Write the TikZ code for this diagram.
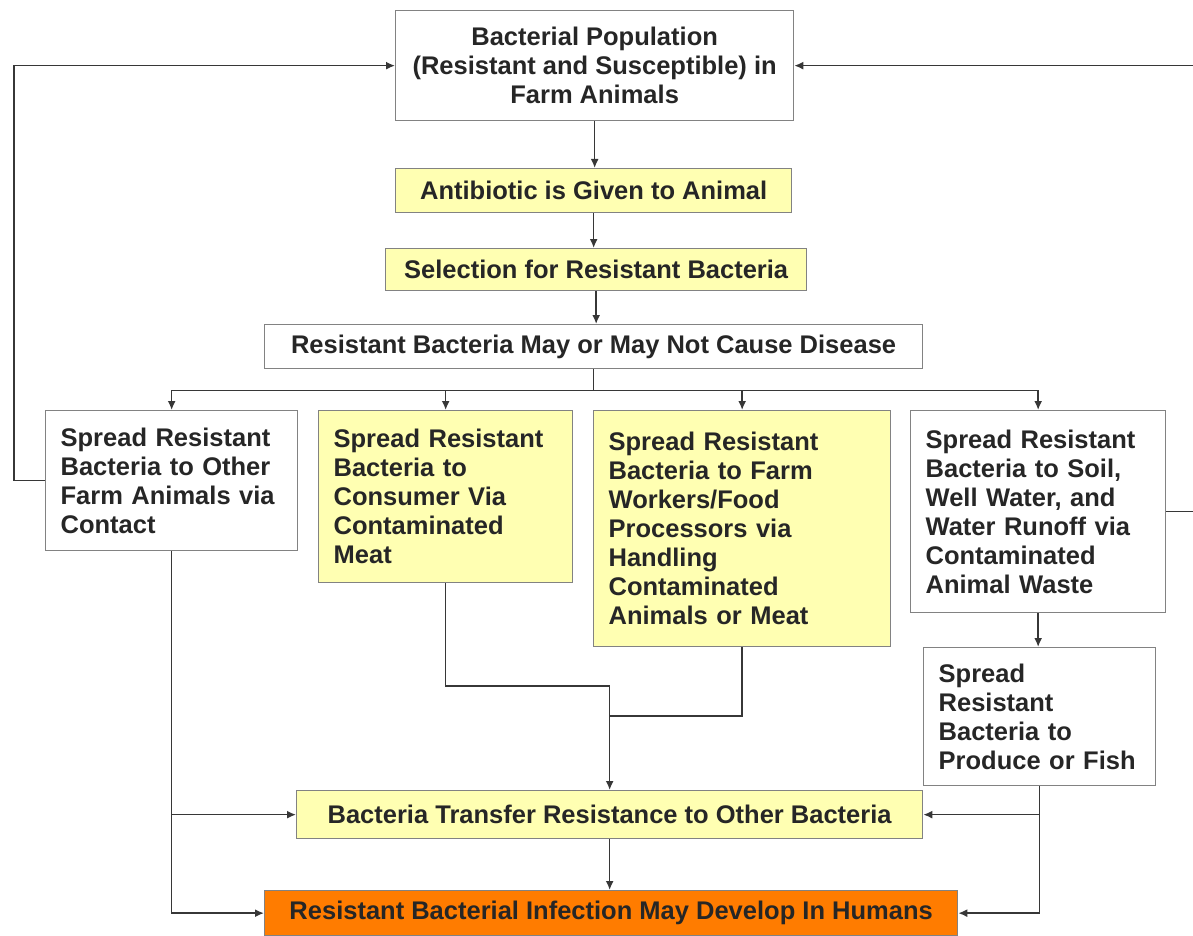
\documentclass[tikz,border=0pt]{standalone}
\usepackage{fontspec}
\setmainfont{Liberation Sans}
\usetikzlibrary{positioning,arrows.meta}
\definecolor{paleyellow}{RGB}{255,255,178}
\definecolor{infectorange}{RGB}{255,124,0}
\definecolor{edgegray}{RGB}{130,130,130}
\definecolor{linegray}{RGB}{55,55,55}
\tikzset{
  box/.style={draw=edgegray, line width=1.3pt, inner xsep=15pt, inner ysep=0pt,
    anchor=north west, text=black!85,
    font=\bfseries\fontsize{25.5}{29}\selectfont},
  cbox/.style={box, align=center},
  lbox/.style={box, align=left},
  yel/.style={fill=paleyellow},
  link/.style={draw=linegray, line width=1.6pt},
  arr/.style={link, -{Latex[length=9pt,width=8pt]}}
}

\begin{document}
\begin{tikzpicture}[x=1pt,y=-1pt]
\useasboundingbox (0,0) rectangle (1193,936);
% top of the chain
\node[cbox, minimum width=398, minimum height=110] (pop) at (395,10)
  {Bacterial Population\\(Resistant and Susceptible) in\\Farm Animals};
\node[cbox, yel, minimum width=396, minimum height=44] (anti) at (395,168)
  {Antibiotic is Given to Animal};
\node[cbox, yel, minimum width=421, minimum height=42] (sel) at (385,248)
  {Selection for Resistant Bacteria};
\node[cbox, minimum width=658, minimum height=44] (cause) at (264,324)
  {Resistant Bacteria May or May Not Cause Disease};
% the four ways of spreading
\node[lbox, text width=222, minimum height=140] (farm) at (45,410)
  {Spread Resistant\\Bacteria to Other\\Farm Animals via\\Contact};
\node[lbox, yel, text width=224, minimum height=172] (meat) at (318,410)
  {Spread Resistant\\Bacteria to\\Consumer Via\\Contaminated\\Meat};
\node[lbox, yel, text width=267, minimum height=236] (work) at (593,410)
  {Spread Resistant\\Bacteria to Farm\\Workers/Food\\Processors via\\Handling\\Contaminated\\Animals or Meat};
\node[lbox, text width=225, minimum height=202] (soil) at (910,410)
  {Spread Resistant\\Bacteria to Soil,\\Well Water, and\\Water Runoff via\\Contaminated\\Animal Waste};
\node[lbox, text width=202, minimum height=138] (fish) at (923,647)
  {Spread\\Resistant\\Bacteria to\\Produce or Fish};
% where it ends
\node[cbox, yel, minimum width=626, minimum height=48] (trans) at (296,790)
  {Bacteria Transfer Resistance to Other Bacteria};
\node[cbox, fill=infectorange, minimum width=693, minimum height=45] (infect) at (264,890)
  {Resistant Bacterial Infection May Develop In Humans};

\draw[arr] (pop.south) -- (pop.south |- anti.north);
\draw[arr] (anti.south) -- (anti.south |- sel.north);
\draw[arr] (sel.south) -- (sel.south |- cause.north);
\draw[link] (cause.south) -- ++(0,21) coordinate (fork);
\foreach \n in {farm,meat,work,soil}
  \draw[arr] (fork) -| (\n.north);
% loops back to the animals
\draw[arr] (farm.west) -- ++(-31,0) |- (pop.west);
\draw[arr] (soil.east) -- ++(27,0) |- (pop.east);
% down to the humans
\coordinate (j2) at (trans.north |- 0,686);
\coordinate (j3) at (trans.north |- 0,716);
\draw[arr] (meat.south) |- (j2) -- (trans.north);
\draw[link] (work.south) |- (j3);
\draw[arr] (farm.south) |- (infect.west);
\draw[arr] (farm.south |- trans.west) -- (trans.west);
\draw[arr] (soil.south) -- (soil.south |- fish.north);
\draw[arr] (fish.south) |- (infect.east);
\draw[arr] (fish.south |- trans.east) -- (trans.east);
\draw[arr] (trans.south) -- (trans.south |- infect.north);
\end{tikzpicture}
\end{document}
